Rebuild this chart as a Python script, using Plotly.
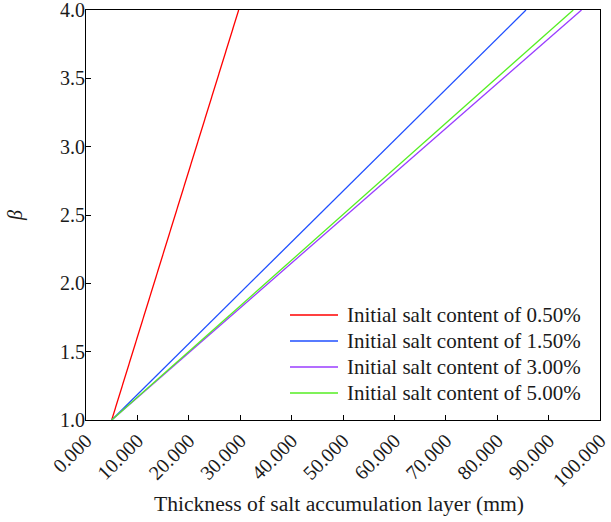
import plotly.graph_objects as go

# Data
names = ["Initial salt content of 0.50%", "Initial salt content of 1.50%",
         "Initial salt content of 3.00%", "Initial salt content of 5.00%"]
x_red = [5.0, 29.7]
x_blue = [5.0, 85.6]
x_purple = [5.0, 96.4]
x_green = [5.0, 94.8]
beta_vals = [1.0, 4.0]
colors = ["#ff0000", "#1f4fff", "#9a3dff", "#55ee22"]
x_ticks = [0, 10, 20, 30, 40, 50, 60, 70, 80, 90, 100]
y_ticks = [1.0, 1.5, 2.0, 2.5, 3.0, 3.5, 4.0]

FONT = "Times New Roman"

fig = go.Figure()
for name, xs, c in zip(names, [x_red, x_blue, x_purple, x_green], colors):
    fig.add_trace(go.Scatter(x=xs, y=beta_vals, mode="lines", name=name,
                             showlegend=False,
                             line=dict(color=c, width=1.3)))

# Legend drawn in paper coordinates (line sample + label per series)
leg_line_x0, leg_line_x1, leg_text_x = 0.3969, 0.4903, 0.5045
leg_y0, leg_dy = 0.2561, 0.0634
for i, (name, c) in enumerate(zip(names, colors)):
    yy = leg_y0 - i * leg_dy
    fig.add_shape(type="line", xref="paper", yref="paper",
                  x0=leg_line_x0, x1=leg_line_x1, y0=yy, y1=yy,
                  line=dict(color=c, width=1.6))
    fig.add_annotation(xref="paper", yref="paper", x=leg_text_x, y=yy,
                       xanchor="left", yanchor="middle", showarrow=False,
                       text=name, font=dict(family=FONT, size=21, color="#1a1a1a"))

# x-axis title placed as text below tick labels
fig.add_annotation(xref="paper", yref="paper", x=0.493, y=-0.205,
                   xanchor="center", yanchor="middle", showarrow=False,
                   text="Thickness of salt accumulation layer (mm)",
                   font=dict(family=FONT, size=21.6, color="#1a1a1a"))

fig.update_layout(
    width=611, height=522,
    margin=dict(l=86, r=11, t=10, b=102),
    paper_bgcolor="white", plot_bgcolor="white",
    font=dict(family=FONT, size=20, color="#1a1a1a"),
    showlegend=False,
)
fig.update_xaxes(
    range=[0, 100], tickvals=x_ticks, tickformat=".3f", tickangle=-45,
    ticks="inside", ticklen=5, tickcolor="black", tickwidth=1,
    showline=True, linecolor="black", linewidth=1.2, mirror=True,
    showgrid=False, zeroline=False, automargin=False,
    ticklabeloverflow="allow",
    tickfont=dict(family=FONT, size=20),
)
fig.update_yaxes(
    range=[1, 4], tickvals=y_ticks, tickformat=".1f",
    ticks="inside", ticklen=5, tickcolor="black", tickwidth=1,
    showline=True, linecolor="black", linewidth=1.2, mirror=True,
    showgrid=False, zeroline=False, automargin=False,
    ticklabeloverflow="allow", ticklabelstandoff=-4,
    title=dict(text="<i>β</i>", standoff=31, font=dict(family=FONT, size=20)),
    tickfont=dict(family=FONT, size=20),
)

fig.write_html("out.html",
               config={"displayModeBar": False},
               post_script="document.body.style.margin='0';document.body.style.overflow='hidden';")
